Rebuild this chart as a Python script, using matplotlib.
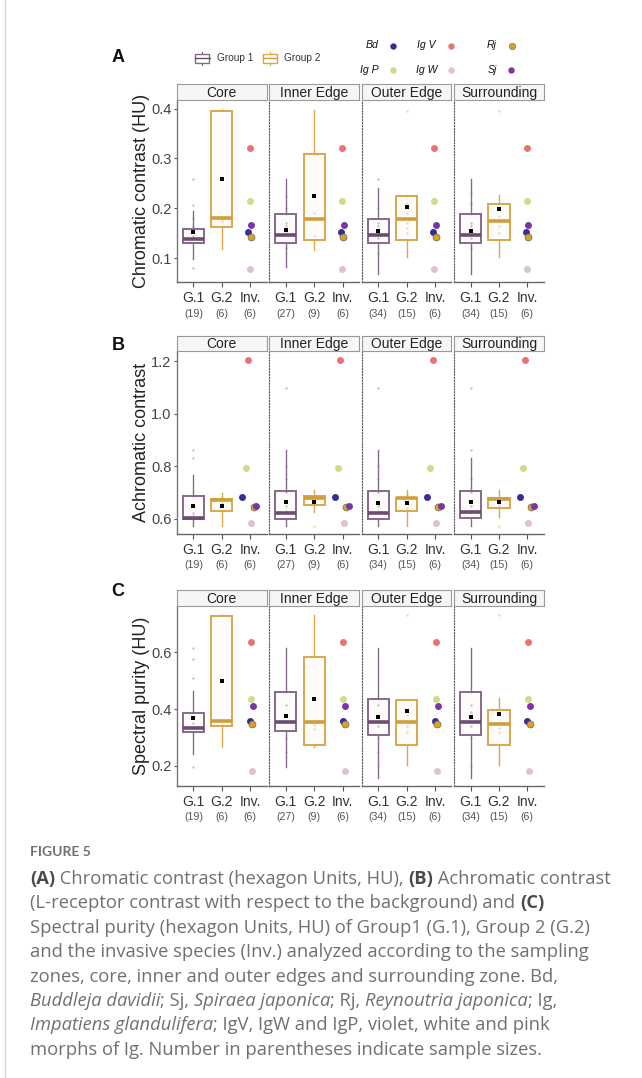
import numpy as np
import matplotlib
matplotlib.use("Agg")
import matplotlib.pyplot as plt
from matplotlib.patches import Rectangle
from matplotlib.lines import Line2D

plt.rcParams['font.family'] = ['Liberation Sans', 'DejaVu Sans']

W, H = 642, 1078

zones = ["Core", "Inner Edge", "Outer Edge", "Surrounding"]
xlabels = ["G.1", "G.2", "Inv."]
n_g1 = [19, 27, 34, 34]
n_g2 = [6, 9, 15, 15]
n_inv = [6, 6, 6, 6]

species = ["Bd", "Ig V", "Ig P", "Ig W", "Rj", "Sj"]
species_colors = ["#3b2b95", "#e6746f", "#c8de8c", "#dcc3cd", "#d9a21f", "#7a35a7"]

# box stats per zone: whislo, q1, median, q3, whishi, mean
A_g1 = [[0.099, 0.131, 0.139, 0.158, 0.194, 0.152],
        [0.081, 0.131, 0.146, 0.189, 0.259, 0.156],
        [0.068, 0.131, 0.146, 0.179, 0.241, 0.155],
        [0.067, 0.131, 0.146, 0.188, 0.259, 0.154]]
A_g2 = [[0.118, 0.162, 0.180, 0.396, 0.396, 0.259],
        [0.117, 0.137, 0.178, 0.310, 0.398, 0.224],
        [0.103, 0.137, 0.178, 0.224, 0.226, 0.203],
        [0.103, 0.137, 0.174, 0.209, 0.226, 0.199]]
A_inv = [0.152, 0.321, 0.215, 0.078, 0.142, 0.167]
A_g1_pts = [[0.259, 0.207, 0.18, 0.165, 0.145, 0.08],
            [0.17, 0.165, 0.15, 0.12, 0.2, 0.225],
            [0.259, 0.17, 0.165, 0.14, 0.11, 0.2],
            [0.17, 0.165, 0.14, 0.12, 0.21, 0.23]]
A_g2_pts = [[0.40, 0.178, 0.175], [0.178, 0.145, 0.19],
            [0.396, 0.19, 0.17, 0.16, 0.15, 0.21], [0.396, 0.185, 0.165, 0.15, 0.2]]

B_g1 = [[0.572, 0.599, 0.604, 0.688, 0.766, 0.649],
        [0.572, 0.599, 0.620, 0.707, 0.862, 0.665],
        [0.572, 0.599, 0.623, 0.707, 0.862, 0.661],
        [0.572, 0.602, 0.624, 0.707, 0.830, 0.662]]
B_g2 = [[0.573, 0.628, 0.670, 0.675, 0.696, 0.649],
        [0.624, 0.651, 0.680, 0.686, 0.709, 0.665],
        [0.573, 0.628, 0.678, 0.680, 0.709, 0.661],
        [0.607, 0.639, 0.676, 0.680, 0.709, 0.663]]
B_inv = [0.684, 1.205, 0.792, 0.585, 0.645, 0.648]
B_g1_pts = [[0.862, 0.83, 0.62, 0.61], [1.097, 0.8, 0.75, 0.7, 0.65, 0.63],
            [1.097, 0.8, 0.75, 0.7, 0.65, 0.63], [1.097, 0.862, 0.75, 0.7, 0.65]]
B_g2_pts = [[0.66, 0.65], [0.573, 0.67], [0.66, 0.64, 0.69], [0.573, 0.66, 0.65]]

C_g1 = [[0.242, 0.321, 0.332, 0.388, 0.465, 0.368],
        [0.195, 0.322, 0.354, 0.462, 0.615, 0.375],
        [0.158, 0.309, 0.354, 0.437, 0.615, 0.371],
        [0.158, 0.309, 0.355, 0.462, 0.615, 0.371]]
C_g2 = [[0.268, 0.341, 0.360, 0.729, 0.729, 0.500],
        [0.268, 0.274, 0.355, 0.582, 0.733, 0.436],
        [0.202, 0.274, 0.355, 0.433, 0.433, 0.395],
        [0.202, 0.274, 0.348, 0.398, 0.438, 0.384]]
C_inv = [0.360, 0.635, 0.437, 0.184, 0.348, 0.410]
C_g1_pts = [[0.614, 0.577, 0.51, 0.195, 0.35], [0.415, 0.38, 0.3, 0.25],
            [0.415, 0.38, 0.34, 0.3, 0.25, 0.2], [0.415, 0.39, 0.34, 0.3, 0.2]]
C_g2_pts = [[0.733, 0.355], [0.345, 0.33], [0.733, 0.38, 0.34, 0.32], [0.733, 0.355, 0.335, 0.32]]

# small horizontal dodge of the invasive-species dots, per panel
A_off = [-0.06, -0.02, -0.02, -0.02, 0.03, 0.04]
B_off = [-0.27, -0.08, -0.16, 0.04, 0.12, 0.22]
C_off = [0.0, 0.03, 0.03, 0.07, 0.08, 0.09]

G1_COL, G1_MED = "#87698b", "#6c4c70"
G2_COL, G2_MED = "#d8a84b", "#cf9f3c"

fig = plt.figure(figsize=(W / 100, H / 100), dpi=100)
fig.patch.set_facecolor("white")


def px_axes(x0, y0, x1, y1):
    return fig.add_axes([x0 / W, 1 - y1 / H, (x1 - x0) / W, (y1 - y0) / H])


def draw_box(ax, x, st, pts, color, mcolor):
    whislo, q1, med, q3, whishi, mean = st
    stats = [dict(whislo=whislo, q1=q1, med=med, q3=q3, whishi=whishi, fliers=[])]
    ax.bxp(stats, positions=[x], widths=0.75, patch_artist=True, showcaps=False,
           showfliers=False, manage_ticks=False,
           boxprops=dict(facecolor="#fdfcfb", edgecolor=color, linewidth=1.4),
           whiskerprops=dict(color=color, linewidth=1.0),
           medianprops=dict(color=mcolor, linewidth=2.6, solid_capstyle="butt"))
    ax.plot([x] * len(pts), pts, "o", ms=1.7, color=color, alpha=0.45, mew=0, zorder=3)
    ax.plot([x], [mean], "s", ms=3.0, color="black", mew=0, zorder=5)


panels = [
    dict(letter="A", ly=58, strip=84, top=100, bottom=282.3, ylim=(0.0512, 0.4175),
         yticks=[0.1, 0.2, 0.3, 0.4], ylabel="Chromatic contrast (HU)",
         g1=A_g1, g2=A_g2, inv=A_inv, g1p=A_g1_pts, g2p=A_g2_pts, off=A_off),
    dict(letter="B", ly=345, strip=335.7, top=350.7, bottom=534, ylim=(0.5417, 1.240),
         yticks=[0.6, 0.8, 1.0, 1.2], ylabel="Achromatic contrast",
         g1=B_g1, g2=B_g2, inv=B_inv, g1p=B_g1_pts, g2p=B_g2_pts, off=B_off),
    dict(letter="C", ly=591, strip=590, top=606, bottom=786, ylim=(0.1296, 0.763),
         yticks=[0.2, 0.4, 0.6], ylabel="Spectral purity (HU)",
         g1=C_g1, g2=C_g2, inv=C_inv, g1p=C_g1_pts, g2p=C_g2_pts, off=C_off),
]

left0, step, fw = 177.0, 92.4, 89.6

for p in panels:
    for i, zone in enumerate(zones):
        x0 = left0 + i * step
        ax = px_axes(x0, p["top"], x0 + fw, p["bottom"])
        ax.set_facecolor("white")

        draw_box(ax, 1, p["g1"][i], p["g1p"][i], G1_COL, G1_MED)
        draw_box(ax, 2, p["g2"][i], p["g2p"][i], G2_COL, G2_MED)
        for k in range(len(species)):
            ec = "#666666" if species[k] == "Rj" else species_colors[k]
            ax.plot([3 + p["off"][k]], [p["inv"][k]], "o", ms=5.0, color=species_colors[k],
                    mec=ec, mew=0.5 if species[k] == "Rj" else 0, zorder=6)

        ax.set_xlim(0.42, 3.58)
        ax.set_ylim(*p["ylim"])
        for s in ["top", "right"]:
            ax.spines[s].set_visible(False)
        ax.spines["bottom"].set_color("#666666")
        ax.spines["bottom"].set_linewidth(1.0)
        if i == 0:
            ax.spines["left"].set_color("#777777")
            ax.spines["left"].set_linewidth(1.0)
            ax.set_yticks(p["yticks"])
            ax.set_yticklabels([f"{v:.1f}" for v in p["yticks"]])
            ax.tick_params(axis="y", length=2.5, width=0.8, color="#555555", pad=1.5,
                           labelsize=10.5, labelcolor="#444444")
        else:
            ax.spines["left"].set_color("#555555")
            ax.spines["left"].set_linewidth(0.8)
            ax.spines["left"].set_linestyle((0, (1, 1.6)))
            ax.tick_params(axis="y", left=False, labelleft=False)
        ax.set_xticks([1, 2, 3])
        ax.set_xticklabels(xlabels)
        ax.tick_params(axis="x", length=3.5, width=0.8, color="#555555", pad=3,
                       labelsize=10, labelcolor="#333333")
        for xx, n in zip([1, 2, 3], [n_g1[i], n_g2[i], n_inv[i]]):
            ax.annotate(f"({n})", xy=(xx, 0), xycoords=("data", "axes fraction"),
                        xytext=(0, -22.5), textcoords="offset points",
                        ha="center", va="center", fontsize=7.7, color="#555555",
                        annotation_clip=False)

        # facet strip
        sax = px_axes(x0, p["strip"], x0 + fw, p["top"])
        sax.set_facecolor("#f8f6f4")
        sax.set_xticks([])
        sax.set_yticks([])
        for s in sax.spines.values():
            s.set_color("#9a9a9a")
            s.set_linewidth(0.8)
        sax.text(0.5, 0.45, zone, ha="center", va="center", fontsize=10, color="#222222",
                 transform=sax.transAxes)

    fig.text(118 / W, 1 - p["ly"] / H, p["letter"], ha="center", va="center",
             fontsize=13, fontweight="bold", color="#111111")
    yc = (p["top"] + p["bottom"]) / 2
    fig.text(146 / W, 1 - yc / H, p["ylabel"], rotation=90, rotation_mode="anchor",
             ha="center", va="baseline", fontsize=13, color="#222222")

# legend: groups
for x0, col, mcol, lab in [(195, G1_COL, G1_MED, "Group 1"), (262.5, G2_COL, G2_MED, "Group 2")]:
    fig.patches.append(Rectangle((x0 / W, 1 - 62.5 / H), 14.5 / W, 8.5 / H,
                                 transform=fig.transFigure, facecolor="white",
                                 edgecolor=col, linewidth=1.0))
    fig.lines.append(Line2D([x0 / W, (x0 + 14.5) / W], [1 - 58.3 / H] * 2,
                            transform=fig.transFigure, color=mcol, linewidth=1.0))
    xm = (x0 + 7.25) / W
    fig.lines.append(Line2D([xm, xm], [1 - 51.5 / H, 1 - 54 / H],
                            transform=fig.transFigure, color=col, linewidth=0.8))
    fig.lines.append(Line2D([xm, xm], [1 - 62.5 / H, 1 - 65 / H],
                            transform=fig.transFigure, color=col, linewidth=0.8))
    fig.text((x0 + 22) / W, 1 - 58.3 / H, lab, ha="left", va="center", fontsize=7.3,
             color="#333333")

# legend: invasive species
leg_pos = {"Bd": (379, 45.5), "Ig V": (436, 45.5), "Rj": (497, 45.5),
           "Ig P": (379, 70), "Ig W": (437, 70), "Sj": (497, 70)}
leg_dot = {"Bd": 392.7, "Ig V": 450.7, "Rj": 511.7, "Ig P": 393.3, "Ig W": 451, "Sj": 511}
for k, sp in enumerate(species):
    tx, ty = leg_pos[sp]
    fig.text(tx / W, 1 - ty / H, sp, ha="right", va="center", fontsize=7.6,
             fontstyle="italic", color="#111111")
    fig.lines.append(Line2D([leg_dot[sp] / W], [1 - ty / H], transform=fig.transFigure,
                            marker="o", ms=4.6, color=species_colors[k], linestyle="none",
                            mec="#666666" if sp == "Rj" else species_colors[k],
                            mew=0.4 if sp == "Rj" else 0))

# left page border
fig.lines.append(Line2D([5.5 / W, 5.5 / W], [0, 1], transform=fig.transFigure,
                        color="#d6d6d6", linewidth=1.0))

# caption
cap_font = ["Open Sans", "DejaVu Sans"]
cap_col = "#707070"
fig.text(30 / W, 1 - 852 / H, "FIGURE 5", ha="left", va="center", fontsize=10,
         color="#707070", family=["Lato", "DejaVu Sans"], fontweight="bold")

caption = [
    [("(A)", "b"), (" Chromatic contrast (hexagon Units, HU), ", "n"), ("(B)", "b"),
     (" Achromatic contrast", "n")],
    [("(L-receptor contrast with respect to the background) and ", "n"), ("(C)", "b")],
    [("Spectral purity (hexagon Units, HU) of Group1 (G.1), Group 2 (G.2)", "n")],
    [("and the invasive species (Inv.) analyzed according to the sampling", "n")],
    [("zones, core, inner and outer edges and surrounding zone. Bd,", "n")],
    [("Buddleja davidii", "i"), ("; Sj, ", "n"), ("Spiraea japonica", "i"), ("; Rj, ", "n"),
     ("Reynoutria japonica", "i"), ("; Ig,", "n")],
    [("Impatiens glandulifera", "i"), ("; IgV, IgW and IgP, violet, white and pink", "n")],
    [("morphs of Ig. Number in parentheses indicate sample sizes.", "n")],
]

renderer = fig.canvas.get_renderer()


def seg_width(txt, style, size):
    kw = dict(fontsize=size, family=cap_font)
    if style == "b":
        kw["fontweight"] = "bold"
    if style == "i":
        kw["fontstyle"] = "italic"
    t1 = fig.text(0, 0, "|" + txt + "|", **kw)
    t2 = fig.text(0, 0, "||", **kw)
    w = t1.get_window_extent(renderer).width - t2.get_window_extent(renderer).width
    t1.remove()
    t2.remove()
    return w, kw


# fit the first caption line to the width it has in the source page
base = 12.0
w0 = sum(seg_width(t, s, base)[0] for t, s in caption[0])
cap_size = base * 580.0 / w0

for li, line in enumerate(caption):
    y = 879 + li * 24.4
    x = 30.0
    for txt, style in line:
        w, kw = seg_width(txt, style, cap_size)
        col = "#4a4a4a" if style == "b" else cap_col
        fig.text(x / W, 1 - y / H, txt, ha="left", va="center", color=col, **kw)
        x += w

fig.savefig("out.png", dpi=100, facecolor="white")
